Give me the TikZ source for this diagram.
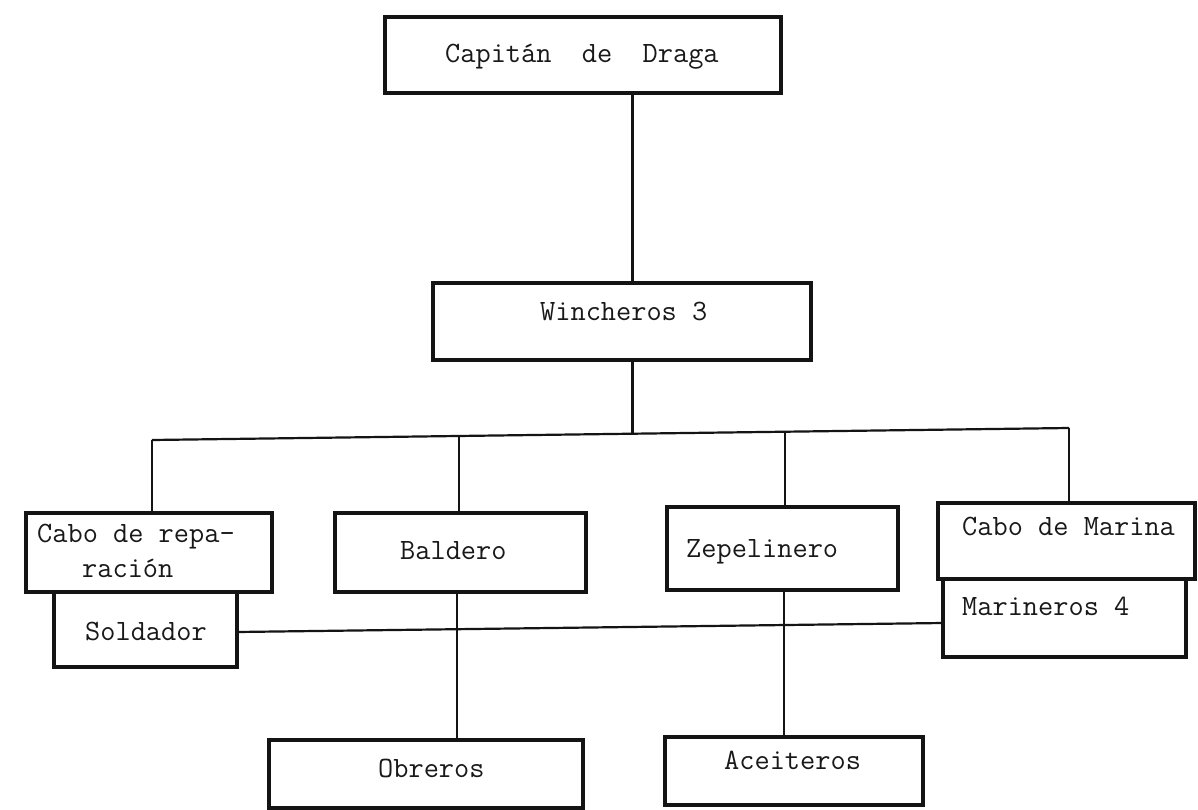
\documentclass[tikz,border=0pt]{standalone}
\usepackage{fontspec}
\begin{document}
\begin{tikzpicture}[x=1pt,y=-1pt,
  box/.style={draw=black!92, rectangle, line width=3.2pt, inner sep=0pt, outer sep=0pt},
  txt/.style={inner sep=0pt, anchor=mid west, text=black!90, font=\ttfamily\fontsize{29.5}{34}\selectfont},
  conn/.style={draw=black!92, line width=2.2pt}]
\useasboundingbox[fill=white] (0,0) rectangle (1198,810);
% boxes
\node[box, minimum width=396pt, minimum height=76pt] (cap)  at (583,55) {};
\node[box, minimum width=378pt, minimum height=77pt] (win)  at (622,321.5) {};
\node[box, minimum width=246pt, minimum height=79pt] (crep) at (149,552.5) {};
\node[box, minimum width=183pt, minimum height=75pt] (sold) at (145.5,629.5) {};
\node[box, minimum width=251pt, minimum height=79pt] (bald) at (460.5,552.5) {};
\node[box, minimum width=231pt, minimum height=83pt] (zep)  at (782.5,548.5) {};
\node[box, minimum width=257pt, minimum height=76pt] (cmar) at (1066.5,541) {};
\node[box, minimum width=243pt, minimum height=78pt] (mar)  at (1064.5,618) {};
\node[box, minimum width=314pt, minimum height=68pt] (obr)  at (426,774) {};
\node[box, minimum width=258pt, minimum height=68pt] (ace)  at (794,771) {};
% texts
\node[txt] (tcap)  at (445,60)  {Capitán~~de~~Draga};
\node[txt] (twin)  at (540,318) {Wincheros 3};
\node[txt] (tcr1)  at (37,540)  {Cabo de repa-};
\node[txt] (tcr2)  at (82,575)  {ración};
\node[txt] (tsold) at (85,638)  {Soldador};
\node[txt] (tbald) at (400,557) {Baldero};
\node[txt] (tzep)  at (686,555) {Zepelinero};
\node[txt] (tcmar) at (962,533) {Cabo de Marina};
\node[txt] (tmar)  at (962,613) {Marineros 4};
\node[txt] (tobr)  at (378,775) {Obreros};
\node[txt] (tace)  at (724,767) {Aceiteros};
% junction coordinates
\coordinate (vx) at (632.5,0);
\coordinate (j1) at (152,440);
\coordinate (j2) at (459,436);
\coordinate (jc) at (632.5,434);
\coordinate (j3) at (785,432);
\coordinate (j4) at (1069,428);
\coordinate (bx) at (457,0);
\coordinate (zx) at (784,0);
% connectors
\draw[conn] (cap.south -| vx) -- (win.north -| vx);
\draw[conn] (win.south -| vx) -- (jc);
\draw[conn] (j1) -- (j4);
\draw[conn] (j1) -- (j1 |- crep.north);
\draw[conn] (j2) -- (j2 |- bald.north);
\draw[conn] (j3) -- (j3 |- zep.north);
\draw[conn] (j4) -- (j4 |- cmar.north);
\draw[conn] (sold.east |- 0,632) -- (mar.west |- 0,623);
\draw[conn] (bald.south -| bx) -- (obr.north -| bx);
\draw[conn] (zep.south -| zx) -- (ace.north -| zx);
\end{tikzpicture}
\end{document}
